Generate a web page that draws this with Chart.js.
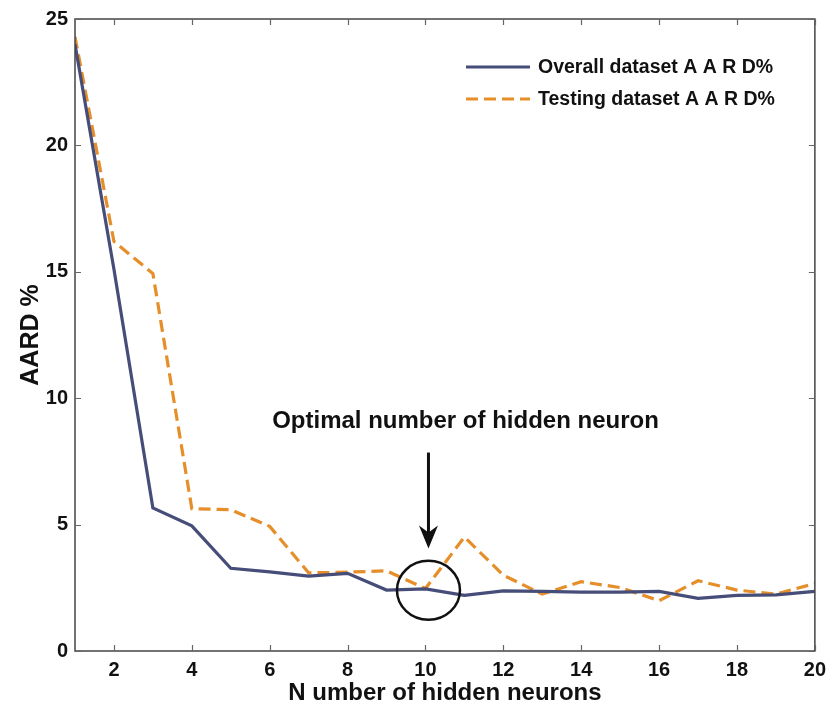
<!DOCTYPE html>
<html>
<head>
<meta charset="utf-8">
<script src="https://cdn.jsdelivr.net/npm/chart.js@4.4.1/dist/chart.umd.min.js"></script>
<style>
  html, body { margin: 0; padding: 0; background: #fff; }
  #wrap { width: 833px; height: 709px; }
</style>
</head>
<body>
<div id="wrap"><canvas id="chart" width="833" height="709"></canvas></div>
<script>
// Data
const neurons = [1, 2, 3, 4, 5, 6, 7, 8, 9, 10, 11, 12, 13, 14, 15, 16, 17, 18, 19, 20];
const overallAARD = [24.0, 15.1, 5.66, 4.95, 3.27, 3.13, 2.96, 3.07, 2.41, 2.46, 2.2, 2.38, 2.36, 2.33, 2.33, 2.36, 2.08, 2.2, 2.22, 2.36];
const testingAARD = [24.3, 16.2, 14.93, 5.63, 5.59, 4.93, 3.09, 3.12, 3.17, 2.47, 4.51, 3.0, 2.25, 2.74, 2.51, 1.99, 2.78, 2.41, 2.25, 2.67];
const seriesNames = ['Overall dataset A A R D%', 'Testing dataset A A R D%'];
const xTicks = [2, 4, 6, 8, 10, 12, 14, 16, 18, 20];
const yTicks = [0, 5, 10, 15, 20, 25];
const optimalNeurons = 10;
const noteText = 'Optimal number of hidden neuron';

const FONT = '"Liberation Sans", Arial, sans-serif';
Chart.defaults.font.family = FONT;
Chart.defaults.color = '#111';

// frame, inner ticks, legend, arrow + circle annotation
const decorations = {
  id: 'decorations',
  afterDatasetsDraw(chart) {
    const { ctx, chartArea: a, scales: { x, y } } = chart;
    ctx.save();

    // box
    ctx.strokeStyle = '#444';
    ctx.lineWidth = 1.5;
    ctx.setLineDash([]);
    ctx.strokeRect(a.left, a.top, a.right - a.left, a.bottom - a.top);

    // inward ticks on all four sides
    ctx.strokeStyle = '#666';
    ctx.lineWidth = 1.2;
    const t = 6;
    ctx.beginPath();
    xTicks.forEach(v => {
      const px = Math.round(x.getPixelForValue(v)) + 0.5;
      ctx.moveTo(px, a.bottom); ctx.lineTo(px, a.bottom - t);
      ctx.moveTo(px, a.top); ctx.lineTo(px, a.top + t);
    });
    yTicks.forEach(v => {
      const py = Math.round(y.getPixelForValue(v)) + 0.5;
      ctx.moveTo(a.left, py); ctx.lineTo(a.left + t, py);
      ctx.moveTo(a.right, py); ctx.lineTo(a.right - t, py);
    });
    ctx.stroke();

    // legend
    const lx = a.left + 391, ly = a.top + 48;
    chart.data.datasets.forEach((ds, i) => {
      const yy = ly + i * 32;
      ctx.strokeStyle = ds.borderColor;
      ctx.lineWidth = ds.borderWidth;
      ctx.setLineDash(ds.borderDash || []);
      ctx.beginPath();
      ctx.moveTo(lx, yy); ctx.lineTo(lx + 64, yy);
      ctx.stroke();
      ctx.setLineDash([]);
      ctx.fillStyle = '#111';
      ctx.font = 'bold 19.5px ' + FONT;
      ctx.textAlign = 'left';
      ctx.textBaseline = 'middle';
      ctx.fillText(ds.label, lx + 72, yy + 1);
    });

    // annotation text
    const ax = x.getPixelForValue(optimalNeurons) + 3;
    ctx.fillStyle = '#111';
    ctx.font = 'bold 24px ' + FONT;
    ctx.textAlign = 'center';
    ctx.textBaseline = 'middle';
    ctx.fillText(noteText, ax + 37, y.getPixelForValue(9.1));

    // arrow
    const y0 = y.getPixelForValue(7.85), y1 = y.getPixelForValue(4.05);
    ctx.strokeStyle = '#111';
    ctx.lineWidth = 3;
    ctx.beginPath();
    ctx.moveTo(ax, y0); ctx.lineTo(ax, y1 - 14);
    ctx.stroke();
    ctx.fillStyle = '#111';
    ctx.beginPath();
    ctx.moveTo(ax, y1);
    ctx.lineTo(ax - 9.5, y1 - 23);
    ctx.lineTo(ax, y1 - 16);
    ctx.lineTo(ax + 9.5, y1 - 23);
    ctx.closePath();
    ctx.fill();

    // circle around the optimum
    ctx.lineWidth = 2.5;
    ctx.beginPath();
    ctx.ellipse(ax, y.getPixelForValue(2.4), 31.5, 29.5, 0, 0, Math.PI * 2);
    ctx.stroke();

    ctx.restore();
  }
};

new Chart(document.getElementById('chart'), {
  type: 'line',
  data: {
    datasets: [
      {
        label: seriesNames[0],
        data: neurons.map((n, i) => ({ x: n, y: overallAARD[i] })),
        borderColor: '#454d78',
        borderWidth: 3.2,
        pointRadius: 0,
        tension: 0,
        fill: false
      },
      {
        label: seriesNames[1],
        data: neurons.map((n, i) => ({ x: n, y: testingAARD[i] })),
        borderColor: '#e68f2a',
        borderWidth: 3.2,
        borderDash: [12, 6],
        pointRadius: 0,
        tension: 0,
        fill: false
      }
    ]
  },
  options: {
    responsive: false,
    animation: false,
    layout: { padding: { top: 18, right: 14, left: 0, bottom: 0 } },
    plugins: {
      legend: { display: false },
      tooltip: { enabled: false }
    },
    scales: {
      x: {
        type: 'linear',
        min: 1,
        max: 20,
        grid: { drawOnChartArea: false, drawTicks: false },
        border: { display: false },
        ticks: {
          stepSize: 2,
          includeBounds: false,
          padding: 7,
          font: { size: 20, weight: 'bold' },
          color: '#111',
          maxRotation: 0
        },
        title: {
          display: true,
          text: 'N umber of hidden neurons',
          font: { size: 24, weight: 'bold' },
          color: '#111',
          padding: { top: 0, bottom: 1 }
        },
        afterFit(scale) { scale.height = 58; }
      },
      y: {
        min: 0,
        max: 25,
        grid: { drawOnChartArea: false, drawTicks: false },
        border: { display: false },
        ticks: {
          stepSize: 5,
          padding: 7,
          font: { size: 20, weight: 'bold' },
          color: '#111'
        },
        title: {
          display: true,
          text: 'AARD %',
          font: { size: 25, weight: 'bold' },
          color: '#111',
          padding: { top: 16, bottom: 0 }
        },
        afterFit(scale) { scale.width = 75; }
      }
    }
  },
  plugins: [decorations]
});
</script>
</body>
</html>
